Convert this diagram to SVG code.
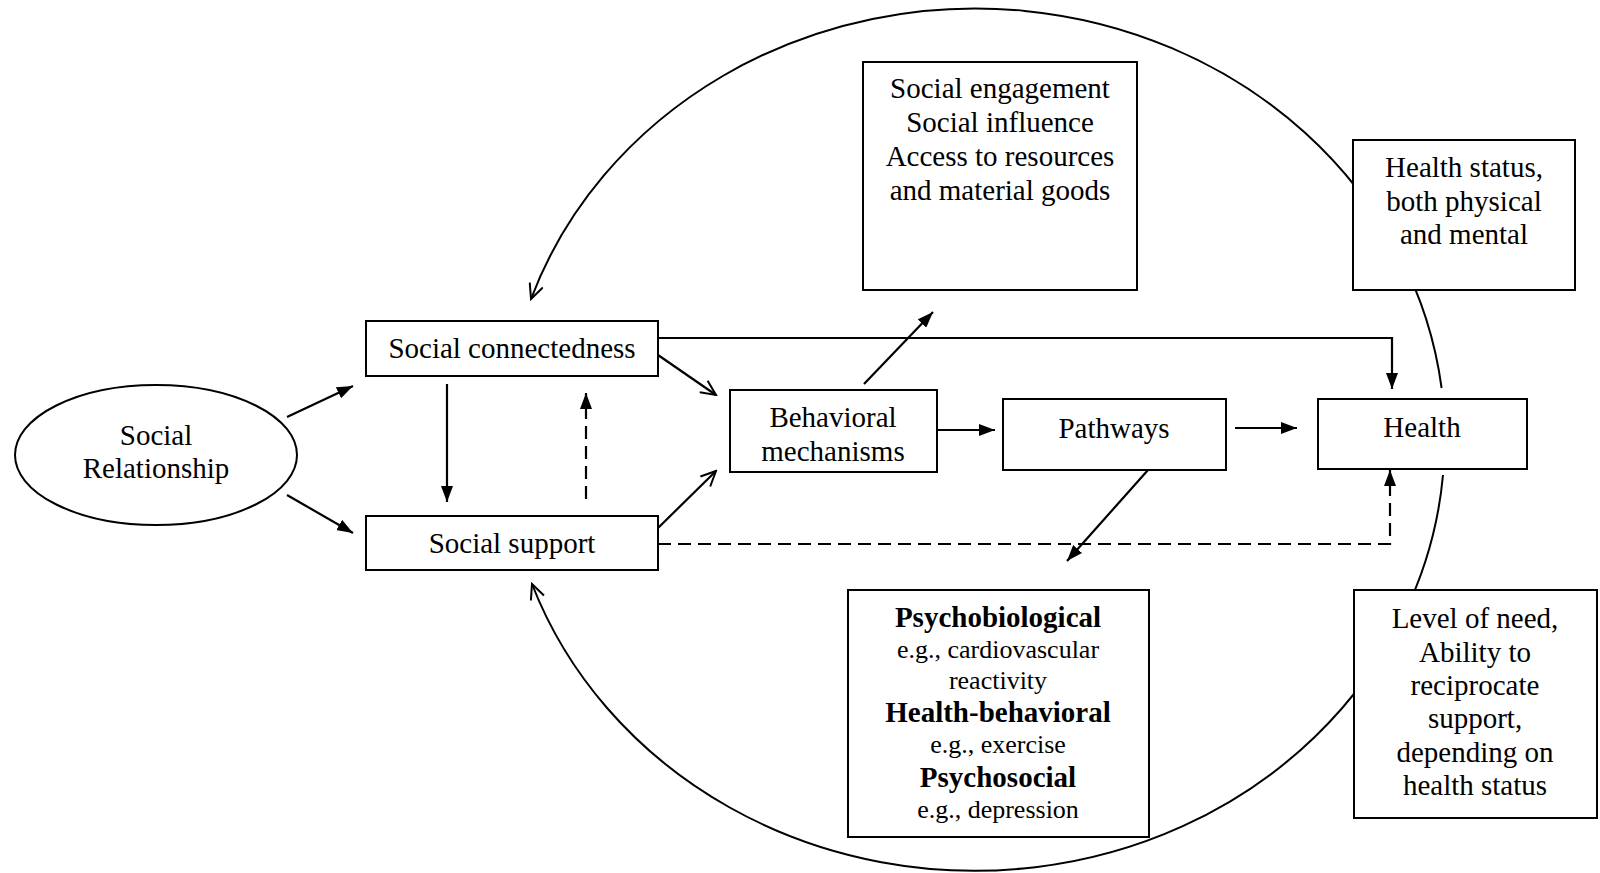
<svg xmlns="http://www.w3.org/2000/svg" width="1600" height="873" viewBox="0 0 1600 873">
  <style>
    text { font-family: "Liberation Serif", "Times New Roman", serif; font-size: 29px; fill: #000; text-anchor: middle; }
    .small { font-size: 26px; }
    .bold { font-weight: bold; }
    .box { fill: #fff; stroke: #000; stroke-width: 2; }
    .link { fill: none; stroke: #000; stroke-width: 2.2; }
    .arc { fill: none; stroke: #000; stroke-width: 2; }
    .dash { stroke-dasharray: 13 7; }
  </style>
  <defs>
    <marker id="solid" viewBox="0 0 16 12" refX="16" refY="6" markerWidth="16" markerHeight="12" markerUnits="userSpaceOnUse" orient="auto">
      <path d="M0,0 L16,6 L0,12 z" fill="#000"/>
    </marker>
    <marker id="open" viewBox="0 0 18 16" refX="16" refY="8" markerWidth="18" markerHeight="16" markerUnits="userSpaceOnUse" orient="auto">
      <path d="M1,1 L16,8 L1,15" fill="none" stroke="#000" stroke-width="2"/>
    </marker>
  </defs>

  <!-- feedback loop drawn behind the boxes -->
  <g id="feedback-loop">
    <path class="arc" d="M1441.6 388 A470 432 0 0 0 531 299" marker-end="url(#open)"/>
    <path class="arc" d="M1443 475 A470 432 0 0 1 532 584" marker-end="url(#open)"/>
  </g>

  <g id="connectors">
    <line class="link" x1="287" y1="417" x2="353" y2="386" marker-end="url(#solid)"/>
    <line class="link" x1="287" y1="495" x2="353" y2="533" marker-end="url(#solid)"/>
    <line class="link" x1="447" y1="384" x2="447" y2="502" marker-end="url(#solid)"/>
    <line class="link dash" x1="586" y1="499" x2="586" y2="393" marker-end="url(#solid)"/>
    <line class="link" x1="658" y1="355" x2="716" y2="395" marker-end="url(#open)"/>
    <line class="link" x1="658" y1="528" x2="716" y2="471" marker-end="url(#open)"/>
    <polyline class="link" points="658,338 1392,338 1392,389" marker-end="url(#solid)"/>
    <polyline class="link dash" points="658,544 1390,544 1390,470" marker-end="url(#solid)"/>
    <line class="link" x1="864" y1="384" x2="933" y2="312" marker-end="url(#solid)"/>
    <line class="link" x1="937" y1="430" x2="995" y2="430" marker-end="url(#solid)"/>
    <line class="link" x1="1235" y1="428" x2="1297" y2="428" marker-end="url(#solid)"/>
    <line class="link" x1="1148" y1="470" x2="1067" y2="561" marker-end="url(#solid)"/>
  </g>

  <g id="social-relationship">
    <ellipse cx="156" cy="455" rx="141" ry="70" fill="#fff" stroke="#000" stroke-width="2"/>
    <text x="156" y="445">Social</text>
    <text x="156" y="478">Relationship</text>
  </g>

  <g id="social-connectedness">
    <rect class="box" x="366" y="321" width="292" height="55"/>
    <text x="512" y="358">Social connectedness</text>
  </g>

  <g id="social-support">
    <rect class="box" x="366" y="516" width="292" height="54"/>
    <text x="512" y="553">Social support</text>
  </g>

  <g id="behavioral-mechanisms">
    <rect class="box" x="730" y="390" width="207" height="82"/>
    <text x="833" y="427">Behavioral</text>
    <text x="833" y="461">mechanisms</text>
  </g>

  <g id="pathways">
    <rect class="box" x="1003" y="399" width="223" height="71"/>
    <text x="1114" y="438">Pathways</text>
  </g>

  <g id="health">
    <rect class="box" x="1318" y="399" width="209" height="70"/>
    <text x="1422" y="437">Health</text>
  </g>

  <g id="social-mechanisms">
    <rect class="box" x="863" y="62" width="274" height="228"/>
    <text x="1000" y="98">Social engagement</text>
    <text x="1000" y="132">Social influence</text>
    <text x="1000" y="166">Access to resources</text>
    <text x="1000" y="200">and material goods</text>
  </g>

  <g id="health-status">
    <rect class="box" x="1353" y="140" width="222" height="150"/>
    <text x="1464" y="177">Health status,</text>
    <text x="1464" y="211">both physical</text>
    <text x="1464" y="244">and mental</text>
  </g>

  <g id="pathway-types">
    <rect class="box" x="848" y="590" width="301" height="247"/>
    <text class="bold" x="998" y="627">Psychobiological</text>
    <text class="small" x="998" y="658">e.g., cardiovascular</text>
    <text class="small" x="998" y="689">reactivity</text>
    <text class="bold" x="998" y="722">Health-behavioral</text>
    <text class="small" x="998" y="753">e.g., exercise</text>
    <text class="bold" x="998" y="787">Psychosocial</text>
    <text class="small" x="998" y="818">e.g., depression</text>
  </g>

  <g id="level-of-need">
    <rect class="box" x="1354" y="590" width="243" height="228"/>
    <text x="1475" y="628">Level of need,</text>
    <text x="1475" y="662">Ability to</text>
    <text x="1475" y="695">reciprocate</text>
    <text x="1475" y="728">support,</text>
    <text x="1475" y="762">depending on</text>
    <text x="1475" y="795">health status</text>
  </g>
</svg>
